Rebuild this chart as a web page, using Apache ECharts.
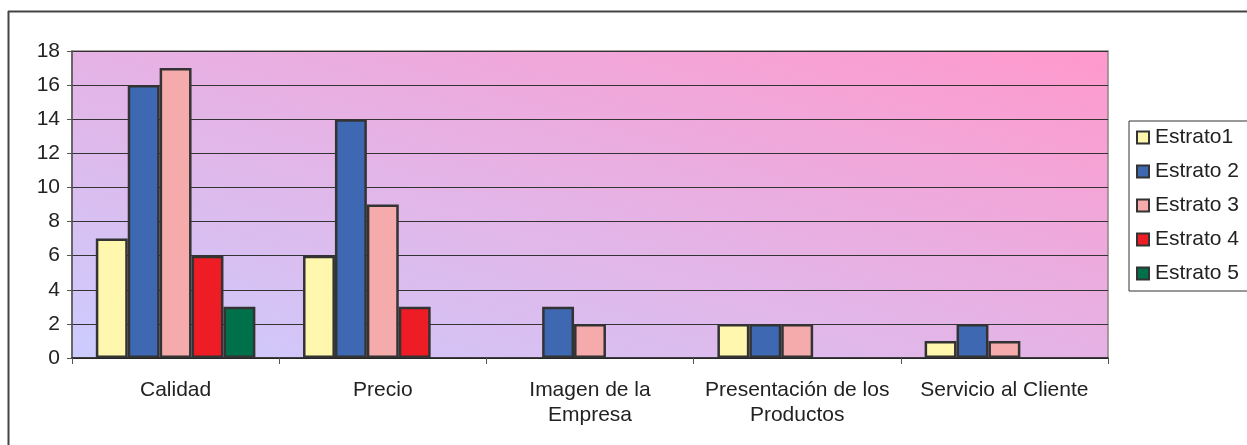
<!DOCTYPE html>
<html>
<head>
<meta charset="utf-8">
<script src="https://cdn.jsdelivr.net/npm/echarts@6/dist/echarts.min.js"></script>
<style>
  html, body { margin: 0; padding: 0; background: #fff; }
  #chart { width: 1247px; height: 445px; }
</style>
</head>
<body>
<div id="chart"></div>
<script>
var categories = ['Calidad', 'Precio', 'Imagen de la\nEmpresa', 'Presentación de los\nProductos', 'Servicio al Cliente']
var seriesNames = ['Estrato1', 'Estrato 2', 'Estrato 3', 'Estrato 4', 'Estrato 5']
var estrato1 = [7, 6, '-', 2, 1]
var estrato2 = [16, 14, 3, 2, 2]
var estrato3 = [17, 9, 2, 2, 1]
var estrato4 = [6, 3, '-', '-', '-']
var estrato5 = [3, '-', '-', '-', '-']
var values = [estrato1, estrato2, estrato3, estrato4, estrato5]
var colors = ['#FFF7AE', '#3E69B2', '#F5ABAB', '#EE1C25', '#00704A']

var chart = echarts.init(document.getElementById('chart'))

var series = seriesNames.map(function (name, i) {
  return {
    name: name,
    type: 'bar',
    data: values[i],
    barGap: 0,
    barCategoryGap: '23%',
    itemStyle: { color: colors[i], borderColor: '#333', borderWidth: 2.5 }
  }
})

// "diagonal up" gradient: iso-lines follow the plot box diagonal (pixel coords)
var bg = new echarts.graphic.LinearGradient(72, 358, 239, -206, [
  { offset: 0, color: '#CCCCFE' },
  { offset: 1, color: '#FF99CC' }
], true)

chart.setOption({
  animation: false,
  textStyle: { fontFamily: 'Liberation Sans' },
  grid: {
    left: 72, top: 51, width: 1036, height: 307,
    show: true,
    borderColor: '#8f8585',
    borderWidth: 1.5,
    backgroundColor: bg
  },
  legend: {
    orient: 'vertical',
    left: 1129, top: 121,
    padding: [6, 30, 7, 7],
    borderColor: '#333', borderWidth: 1,
    backgroundColor: '#fff',
    itemWidth: 12, itemHeight: 12,
    itemGap: 13,
    icon: 'rect',
    textStyle: { fontSize: 21, color: '#222', lineHeight: 21, padding: [0, 0, 0, 1] }
  },
  xAxis: {
    type: 'category',
    data: categories,
    axisLine: { lineStyle: { color: '#222', width: 1.5 } },
    axisTick: { show: true, length: 6, lineStyle: { color: '#555' } },
    axisLabel: { interval: 0, fontSize: 21, color: '#222', margin: 20, lineHeight: 25 }
  },
  yAxis: {
    type: 'value',
    min: 0, max: 18, interval: 2,
    axisLine: { show: true, lineStyle: { color: '#555', width: 1.5 } },
    axisTick: { show: true, length: 5, lineStyle: { color: '#555' } },
    axisLabel: { fontSize: 21, color: '#222', margin: 12 },
    splitLine: { lineStyle: { color: '#333', width: 1 } }
  },
  graphic: [
    { type: 'line', shape: { x1: 8.5, y1: 11, x2: 8.5, y2: 445 }, style: { stroke: '#444', lineWidth: 2 } },
    { type: 'line', shape: { x1: 8, y1: 11.5, x2: 1247, y2: 11.5 }, style: { stroke: '#444', lineWidth: 2 } }
  ],
  series: series
})
</script>
</body>
</html>
